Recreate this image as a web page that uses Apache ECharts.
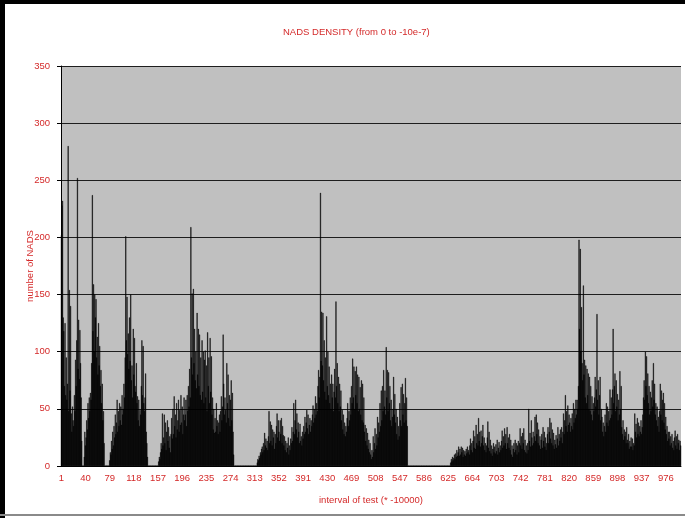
<!DOCTYPE html>
<html>
<head>
<meta charset="utf-8">
<script src="https://cdn.jsdelivr.net/npm/echarts@6/dist/echarts.min.js"></script>
<style>
  html, body { margin: 0; padding: 0; background: #ffffff; }
  #chart { width: 685px; height: 518px; }
</style>
</head>
<body>
<div id="chart"></div>
<script>
// NADS counts per test interval, intervals 1..1000 (four blocks of 250)
const nadsA = [
  202,228,232,130,118,70,125,62,95,58,72,280,48,154,66,140,46,30,52,40,
  35,62,48,93,70,110,252,85,128,76,119,90,60,22,0,0,0,8,30,18,
  25,40,32,55,42,60,48,64,58,90,237,118,159,100,150,130,146,95,113,80,
  125,88,105,70,84,55,72,40,48,20,0,0,0,0,0,0,0,0,5,12,
  10,22,15,30,18,35,25,45,28,38,58,30,48,35,55,40,52,36,62,45,
  50,72,60,95,201,110,148,98,116,85,130,92,150,75,88,60,120,80,112,70,
  65,90,55,61,40,58,35,49,45,70,110,62,105,55,48,60,81,30,20,8,
  0,0,0,0,0,0,0,0,0,0,0,0,0,0,0,0,0,4,8,6,
  12,20,15,46,18,25,45,20,38,14,30,40,22,34,16,26,12,28,42,24,
  50,28,61,35,45,25,55,32,40,58,30,49,36,62,38,52,28,45,60,40,
  45,58,35,62,48,70,52,85,60,209,95,151,80,155,90,120,75,100,68,134,
  80,120,70,115,62,95,58,110,65,100,55,93,101,60,88,48,117,70,95,55,
  112,65,96,45,60,32,50,29,42,30
];
const nadsB = [
  55,35,40,28,38,45,30,48,61,40,
  52,115,72,45,60,49,38,90,55,80,42,62,35,58,75,40,64,30,10,0,
  0,0,0,0,0,0,0,0,0,0,0,0,0,0,0,0,0,0,0,0,
  0,0,0,0,0,0,0,0,0,0,0,0,0,0,0,0,3,6,5,9,
  7,12,10,15,17,12,20,14,29,18,24,16,22,14,26,48,20,39,22,36,
  18,32,25,30,15,28,20,35,46,25,40,30,22,40,28,42,20,35,27,18,
  26,14,22,12,20,16,25,10,18,14,24,20,34,22,30,55,28,40,58,32,
  46,25,38,30,20,37,22,26,18,30,24,35,28,43,30,38,49,33,45,28,
  36,42,30,40,35,45,53,38,50,42,61,45,55,48,70,84,60,78,239,92,
  135,88,134,75,110,65,95,58,131,70,100,62,87,55,72,50,80,60,72,48,
  65,85,60,144,70,90,55,78,48,72,52,66,40,49,32,45,28,38,26,35,
  30,42,55,35,48,40,60,45,70,55,94,60,87,50,83,62,87,55,80,48,
  78,50,69,45,75,40,72,38,60,30,36,22,33,18,29,15,23,12,20,10
];
const nadsC = [
  6,14,8,26,12,20,33,15,28,18,43,25,38,30,55,35,66,40,70,48,
  84,52,66,45,104,60,84,48,82,55,70,40,58,35,43,50,78,45,63,38,
  50,28,43,23,35,26,55,40,69,35,72,45,63,38,55,77,40,60,35,0,
  0,0,0,0,0,0,0,0,0,0,0,0,0,0,0,0,0,0,0,0,
  0,0,0,0,0,0,0,0,0,0,0,0,0,0,0,0,0,0,0,0,
  0,0,0,0,0,0,0,0,0,0,0,0,0,0,0,0,0,0,0,0,
  0,0,0,0,0,0,0,0,3,6,4,8,5,7,10,6,11,8,14,9,
  12,17,9,15,10,17,12,16,8,14,10,13,9,15,11,17,12,14,10,18,
  24,14,20,12,22,31,16,26,15,36,20,28,18,42,22,30,17,31,20,26,
  36,18,25,14,20,12,18,25,39,16,30,13,23,11,18,9,15,20,12,17,
  11,19,13,23,10,16,21,12,18,14,22,31,16,26,18,33,20,28,15,34,
  20,25,16,28,14,23,10,18,8,15,20,12,23,14,20,10,18,22,12,20,
  33,18,26,15,29,20,33,14,23,12
];
const nadsD = [
  18,11,20,14,50,22,29,17,40,25,
  18,30,20,26,43,22,45,28,38,20,32,18,26,15,23,28,16,34,22,30,
  17,25,14,20,28,34,20,30,42,24,38,20,32,18,29,15,23,19,27,16,
  24,34,18,28,22,32,25,34,20,30,46,28,40,62,35,48,30,53,36,45,
  38,30,42,35,46,32,55,38,50,42,58,45,58,50,70,198,120,190,100,139,
  90,75,158,80,93,60,88,55,85,62,81,50,78,48,70,45,61,40,55,48,
  60,78,52,67,133,58,75,45,62,78,40,50,43,30,38,26,35,45,30,55,
  38,52,35,48,40,67,42,60,45,67,120,55,70,81,48,75,52,63,40,58,
  45,83,50,70,34,28,40,23,32,26,30,20,34,23,20,28,15,22,17,25,
  17,24,14,20,18,46,30,37,25,42,28,38,26,35,30,40,28,34,45,60,
  75,58,100,70,96,62,81,55,70,45,65,48,60,75,52,90,58,72,45,55,
  40,52,35,43,30,48,72,45,66,40,58,64,38,55,32,43,28,35,22,30,
  24,30,18,26,20,28,16,22,14,25,31,18,26,15,28,20,23,14,22,18
];
const nads = nadsA.concat(nadsB, nadsC, nadsD);

// Interval numbers 1..N on the category axis; every 39th one is labelled
const categories = nads.map((_, i) => String(i + 1));
const yTicks = { min: 0, max: 350, step: 50 };

const chartTitle = 'NADS DENSITY (from 0 to -10e-7)';
const xTitle = 'interval of test (* -10000)';
const yTitle = 'number of NADS';

const red = '#d42a2a';
const font = 'Liberation Sans, Arial, sans-serif';

const chart = echarts.init(document.getElementById('chart'), null, { renderer: 'canvas' });
chart.setOption({
  animation: false,
  backgroundColor: '#ffffff',
  title: {
    text: chartTitle,
    left: 278,
    top: 22,
    textStyle: { color: red, fontSize: 9.5, fontWeight: 'normal', fontFamily: font }
  },
  graphic: [
    // frame of the chart area
    { type: 'rect', shape: { x: 0, y: 0, width: 5, height: 518 }, style: { fill: '#000' }, silent: true },
    { type: 'rect', shape: { x: 0, y: 0, width: 685, height: 4 }, style: { fill: '#000' }, silent: true },
    { type: 'rect', shape: { x: 0, y: 514, width: 685, height: 2 }, style: { fill: '#8a8a8a' }, silent: true }
  ],
  grid: {
    left: 61, top: 66, width: 620, height: 400,
    show: true, backgroundColor: '#c0c0c0', borderWidth: 0
  },
  xAxis: {
    type: 'category',
    data: categories,
    boundaryGap: true,
    axisLine: { lineStyle: { color: '#000', width: 1 } },
    axisTick: { show: false },
    axisLabel: { interval: 38, color: red, fontSize: 9.5, fontFamily: font, margin: 7 },
    splitLine: { show: false },
    name: xTitle,
    nameLocation: 'middle',
    nameGap: 29,
    nameTextStyle: { color: red, fontSize: 9.5, fontFamily: font }
  },
  yAxis: {
    type: 'value',
    min: yTicks.min, max: yTicks.max, interval: yTicks.step,
    axisLine: { show: true, lineStyle: { color: '#000', width: 1 } },
    axisTick: { show: true, length: 4, lineStyle: { color: '#000' } },
    axisLabel: { color: red, fontSize: 9.5, fontFamily: font, margin: 11 },
    splitLine: { show: true, lineStyle: { color: '#1e1e1e', width: 1 } },
    name: yTitle,
    nameLocation: 'middle',
    nameGap: 26,
    nameMoveOverlap: false,
    nameRotate: 90,
    nameTextStyle: { color: red, fontSize: 9.5, fontFamily: font }
  },
  series: [{
    type: 'bar',
    data: nads,
    barCategoryGap: '0%',
    barGap: '0%',
    itemStyle: { color: '#000', borderColor: '#000', borderWidth: 0.4 },
    emphasis: { disabled: true }
  }]
});
</script>
</body>
</html>
